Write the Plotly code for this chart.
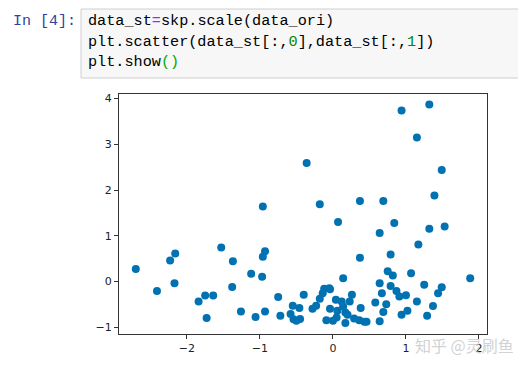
import plotly.graph_objects as go

# Standardised data
x_vals = [-2.70, -2.41, -2.23, -2.16, -2.17, -1.84, -1.75, -1.64, -1.73, -1.53,
          -1.37, -1.38, -1.26, -1.12, -1.06, -0.96, -0.96, -0.93, -0.97, -0.93,
          -0.75, -0.72, -0.58, -0.55, -0.46, -0.54, -0.45, -0.40, -0.36, -0.28,
          -0.23, -0.18, -0.14, -0.12, -0.05, -0.18, 0.07, 0.37, 0.69, 0.94,
          1.32, 1.15, 1.49, 1.39, 0.84, 0.64, 1.32, 1.53, 1.17, 0.37,
          0.79, 0.75, 0.82, 1.07, 1.88, 0.14, 0.64, 0.79, 1.25, 0.87,
          0.91, 1.00, 0.67, 1.49, 1.44, 0.58, 0.73, 1.15, 1.37, 0.69,
          1.02, 0.94, 1.29, 0.64, 0.04, 0.12, 0.23, 0.26, -0.04, 0.06,
          0.14, 0.17, 0.20, 0.38, -0.09, 0.00, 0.05, 0.17, 0.29, 0.36,
          0.43, 0.46, -0.04, -0.50]
y_vals = [0.27, -0.21, 0.46, 0.61, -0.04, -0.44, -0.31, -0.31, -0.80, 0.74,
          0.44, -0.12, -0.66, 0.17, -0.78, 1.64, 0.54, 0.66, 0.10, -0.66,
          -0.34, -0.75, -0.71, -0.53, -0.58, -0.83, -0.82, -0.29, 2.59, -0.60,
          -0.53, -0.38, -0.26, -0.16, -0.15, 1.69, 1.30, 1.76, 1.76, 3.74,
          3.87, 3.15, 2.44, 1.88, 1.28, 1.06, 1.15, 1.20, 0.81, 0.52,
          0.59, 0.22, 0.13, 0.18, 0.07, 0.07, -0.04, -0.10, -0.07, -0.21,
          -0.33, -0.30, -0.26, -0.13, -0.26, -0.46, -0.50, -0.44, -0.54, -0.67,
          -0.64, -0.73, -0.75, -0.87, -0.40, -0.44, -0.44, -0.29, -0.60, -0.64,
          -0.55, -0.68, -0.73, -0.58, -0.85, -0.86, -0.79, -0.91, -0.81, -0.85,
          -0.88, -0.88, -0.17, -0.86]

x_ticks = [-2, -1, 0, 1, 2]
y_ticks = [-1, 0, 1, 2, 3, 4]

prompt_text = "In [4]:"
code_lines = [
    'data_st<span style="color:#AA22FF">=</span>skp.scale(data_ori)',
    'plt.scatter(data_st[:,<span style="color:#008800">0</span>],data_st[:,<span style="color:#008800">1</span>])',
    'plt.show<span style="color:#00aa00">()</span>',
]
watermark = "知乎 @灵刷鱼"

# page body has an 8px margin: size and place the figure to compensate
O = 8
W, H = 526 - O, 369 - O
L, R, T, B = 119 - O, 39, 94 - O, 35
PW, PH = W - L - R, H - T - B


def px(x):
    return (x - O - L) / PW


def py(y):
    return (H - B - (y - O)) / PH


fig = go.Figure()
fig.add_trace(go.Scatter(
    x=x_vals, y=y_vals, mode="markers",
    marker=dict(color="#0072B2", size=8, line=dict(width=0)),
    showlegend=False, hoverinfo="skip",
))

axis_common = dict(
    showgrid=False, zeroline=False, showline=True, mirror=True,
    linecolor="#333333", linewidth=1, ticks="outside", ticklen=4,
    tickcolor="#333333", tickfont=dict(family="DejaVu Sans", size=11, color="#222222"),
)
fig.update_xaxes(range=[-2.93, 2.11], tickvals=x_ticks, **axis_common)
fig.update_yaxes(range=[-1.15, 4.10], tickvals=y_ticks, **axis_common)

shapes = [dict(type="rect", xref="paper", yref="paper",
               x0=px(81), x1=px(530), y0=py(9), y1=py(78),
               fillcolor="#f7f7f7", line=dict(color="#cfcfcf", width=1), layer="below")]

annotations = [dict(xref="paper", yref="paper", x=px(11), y=py(22),
                    xanchor="left", yanchor="middle", showarrow=False,
                    text=prompt_text,
                    font=dict(family="Liberation Mono", size=15, color="#303F9F"))]
for i, line in enumerate(code_lines):
    annotations.append(dict(xref="paper", yref="paper", x=px(86), y=py(20.5 + 21 * i),
                            xanchor="left", yanchor="middle", showarrow=False,
                            text=line,
                            font=dict(family="Liberation Mono", size=15.2, color="#000000")))
annotations.append(dict(xref="paper", yref="paper", x=px(413), y=py(345),
                        xanchor="left", yanchor="middle", showarrow=False,
                        text=watermark,
                        font=dict(family="Noto Sans CJK SC", size=16, color="rgba(195,195,195,0.75)")))

fig.update_layout(
    width=W, height=H, autosize=False,
    margin=dict(l=L, r=R, t=T, b=B, pad=0),
    paper_bgcolor="white", plot_bgcolor="white",
    shapes=shapes, annotations=annotations,
)

fig.write_html("out.html")
